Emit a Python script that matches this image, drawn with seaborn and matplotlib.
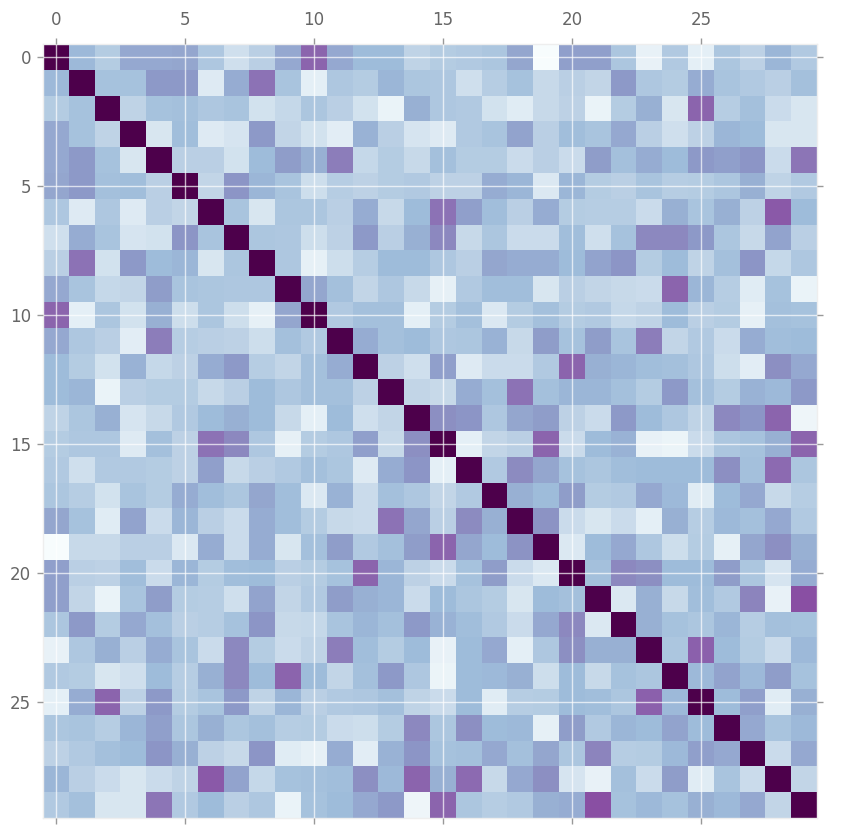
import numpy as np
import matplotlib
matplotlib.use("Agg")
import matplotlib.pyplot as plt
import seaborn as sns

# upper triangle of the matrix, one list per row (values right of the diagonal)
r0 = [.37, .28, .42, .42, .43, .30, .18, .26, .42, .62, .42, .36, .36, .24, .28, .29, .31, .43, .00, .45, .45, .31, .08, .29, .10, .31, .25, .38, .29]
r1 = [.33, .33, .47, .47, .13, .41, .58, .32, .10, .30, .28, .38, .31, .30, .18, .27, .33, .21, .26, .23, .47, .30, .28, .41, .32, .29, .26, .34]
r2 = [.24, .33, .34, .30, .32, .17, .22, .31, .26, .17, .07, .40, .30, .29, .17, .12, .21, .25, .07, .28, .40, .15, .62, .27, .34, .20, .15]
r3 = [.15, .35, .13, .16, .47, .23, .17, .11, .39, .26, .16, .13, .29, .32, .44, .26, .35, .32, .42, .26, .18, .25, .38, .36, .15, .15]
r4 = [.26, .26, .17, .36, .46, .40, .55, .22, .28, .21, .34, .28, .28, .20, .26, .20, .46, .34, .41, .36, .47, .45, .48, .20, .57]
r5 = [.23, .48, .38, .32, .19, .27, .25, .28, .29, .25, .25, .41, .38, .14, .38, .28, .26, .32, .27, .28, .31, .40, .24, .29]
r6 = [.32, .15, .31, .31, .26, .41, .21, .36, .58, .45, .35, .26, .41, .28, .27, .27, .20, .40, .32, .40, .25, .65, .36]
r7 = [.31, .30, .19, .25, .47, .26, .40, .52, .21, .31, .20, .20, .35, .18, .33, .52, .52, .47, .31, .21, .44, .26]
r8 = [.30, .09, .19, .27, .36, .36, .30, .26, .43, .41, .41, .36, .44, .48, .28, .36, .24, .34, .48, .22, .30]
r9 = [.43, .34, .23, .30, .21, .09, .29, .35, .35, .15, .26, .23, .21, .20, .62, .38, .27, .12, .33, .07]
r10 = [.29, .34, .34, .10, .28, .34, .14, .28, .34, .28, .29, .22, .24, .36, .26, .28, .09, .34, .33]
r11 = [.41, .34, .36, .30, .31, .39, .21, .46, .33, .46, .32, .55, .23, .29, .20, .41, .35, .36]
r12 = [.25, .18, .45, .13, .20, .20, .29, .62, .40, .38, .35, .34, .30, .19, .11, .50, .42]
r13 = [.23, .21, .41, .34, .58, .34, .38, .38, .34, .28, .47, .34, .28, .39, .37, .47]
r14 = [.50, .48, .30, .43, .46, .25, .20, .47, .36, .30, .24, .52, .48, .62, .05]
r15 = [.10, .23, .26, .62, .20, .36, .39, .08, .06, .20, .31, .33, .40, .62]
r16 = [.29, .51, .43, .33, .31, .35, .36, .36, .36, .50, .34, .60, .31]
r17 = [.40, .36, .46, .28, .29, .42, .37, .12, .36, .42, .21, .27]
r18 = [.49, .20, .15, .20, .10, .40, .27, .37, .34, .42, .29]
r19 = [.14, .36, .42, .30, .19, .28, .09, .43, .50, .40]
r20 = [.34, .52, .50, .36, .36, .46, .31, .16, .41]
r21 = [.14, .40, .21, .35, .29, .53, .08, .68]
r22 = [.40, .33, .31, .38, .27, .34, .33]
r23 = [.31, .63, .36, .28, .20, .37]
r24 = [.37, .44, .37, .46, .33]
r25 = [.36, .45, .12, .40]
r26 = [.42, .32, .37]
r27 = [.20, .42]
r28 = [.23]
upper_rows = [r0, r1, r2, r3, r4, r5, r6, r7, r8, r9, r10, r11, r12, r13, r14,
              r15, r16, r17, r18, r19, r20, r21, r22, r23, r24, r25, r26, r27, r28]
tick_labels = [0, 5, 10, 15, 20, 25]

# rebuild the symmetric correlation matrix
n = len(upper_rows) + 1
corr = np.eye(n)
for i, row in enumerate(upper_rows):
    corr[i, i + 1:] = row
    corr[i + 1:, i] = row

fig = plt.figure(figsize=(8.57, 8.39), dpi=100)
ax = fig.add_axes([43 / 857, 1 - 818 / 839, 774 / 857, 774 / 839])
sns.heatmap(corr, cmap="BuPu", vmin=0, vmax=0.96, cbar=False, square=False,
            xticklabels=False, yticklabels=False, ax=ax)

# ticks on all four sides, labels on top and left
ticks = np.array(tick_labels) + 0.5
ax.set_xticks(ticks)
ax.set_xticklabels(tick_labels)
ax.set_yticks(ticks)
ax.set_yticklabels(tick_labels, rotation=0)
ax.tick_params(axis="both", length=4.5, width=1, color="#999999", labelcolor="#666666",
               labelsize=12, top=True, bottom=True, left=True, right=True,
               labeltop=True, labelbottom=False, labelleft=True, labelright=False)
ax.tick_params(axis="x", pad=6)
ax.tick_params(axis="y", pad=4)

# white grid on top of the cells
ax.grid(True, color="white", linewidth=1, alpha=0.7)
ax.set_axisbelow(False)
for spine in ax.spines.values():
    spine.set_visible(True)
    spine.set_color("#eeeeee")
    spine.set_linewidth(1)

fig.savefig("out.png", dpi=100)
